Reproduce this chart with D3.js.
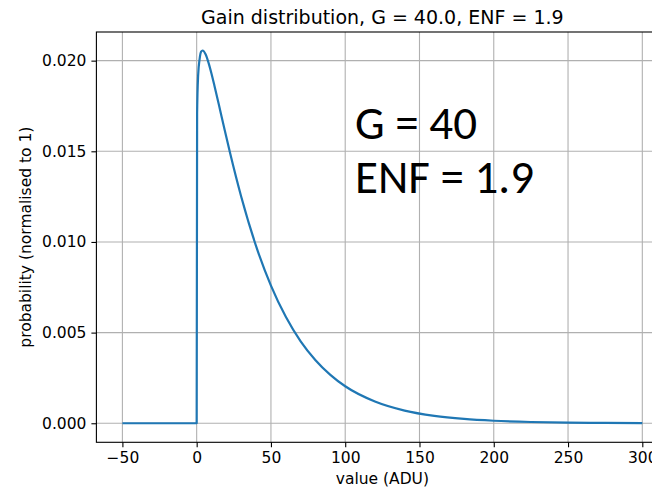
<!DOCTYPE html>
<html>
<head>
<meta charset="utf-8">
<script src="https://cdn.jsdelivr.net/npm/d3@7"></script>
<style>
  body { margin: 0; background: #fff; }
  svg { display: block; }
</style>
</head>
<body>
<div id="chart"></div>
<script>
// values
const xTicks = [-50, 0, 50, 100, 150, 200, 250, 300];
const xTickLabels = ["\u221250", "0", "50", "100", "150", "200", "250", "300"];
const yTicks = [0, 0.005, 0.010, 0.015, 0.020];
const yTickLabels = ["0.000", "0.005", "0.010", "0.015", "0.020"];

const valueADU = [-50, -25, 0, 0.3, 1, 2, 3, 4, 6, 8, 10, 12, 15, 18, 22.5, 30, 40, 50, 60, 70,
    80, 90, 100, 120, 140, 160, 180, 200, 225, 250, 275, 300];
const probability = [0, 0, 0, 0.0171, 0.0192, 0.0201, 0.0205, 0.02056, 0.02035, 0.01988, 0.01928,
    0.0186, 0.01755, 0.01648, 0.0149, 0.01249, 0.00977, 0.00759, 0.00587, 0.00452,
    0.00348, 0.00267, 0.00204, 0.0012, 0.0007, 0.00041, 0.00024, 0.00014, 0.00007,
    0.000035, 0.000018, 0.000009];

const annotation = ["G = 40", "ENF = 1.9"];
const title = "Gain distribution, G = 40.0, ENF = 1.9";

const W = 652, H = 489;
const plot = { left: 96.4, right: 668.3, top: 32, bottom: 442.3 };

const svg = d3.select("#chart").append("svg")
    .attr("width", W)
    .attr("height", H)
    .attr("font-family", "'DejaVu Sans', sans-serif");

const x = d3.scaleLinear().domain([-67.5, 317.5]).range([plot.left, plot.right]);
const y = d3.scaleLinear().domain([-0.00105, 0.02158]).range([plot.bottom, plot.top]);

// grid
const grid = svg.append("g");
grid.selectAll("line.gx").data(xTicks).enter().append("line")
    .attr("x1", d => x(d)).attr("x2", d => x(d))
    .attr("y1", plot.top).attr("y2", plot.bottom)
    .attr("stroke", "#b0b0b0").attr("stroke-width", 1.1);
grid.selectAll("line.gy").data(yTicks).enter().append("line")
    .attr("x1", plot.left).attr("x2", plot.right)
    .attr("y1", d => y(d)).attr("y2", d => y(d))
    .attr("stroke", "#b0b0b0").attr("stroke-width", 1.1);

// the curve
const line = d3.line()
    .x((d, i) => x(valueADU[i]))
    .y(d => y(d))
    .curve(d3.curveMonotoneX);
svg.append("path")
    .attr("d", line(probability))
    .attr("fill", "none")
    .attr("stroke", "#1f77b4")
    .attr("stroke-width", 2.2)
    .attr("stroke-linejoin", "round");

// axes
const xAxis = svg.append("g")
    .attr("transform", `translate(0, ${plot.bottom})`)
    .call(d3.axisBottom(x).tickValues(xTicks)
        .tickFormat((d, i) => xTickLabels[i])
        .tickSize(5).tickPadding(5).tickSizeOuter(0));
const yAxis = svg.append("g")
    .attr("transform", `translate(${plot.left}, 0)`)
    .call(d3.axisLeft(y).tickValues(yTicks)
        .tickFormat((d, i) => yTickLabels[i])
        .tickSize(5).tickPadding(5).tickSizeOuter(0));
for (let a of [xAxis, yAxis]) {
    a.select(".domain").remove();
    a.selectAll("line").attr("stroke", "#000").attr("stroke-width", 1.1);
    a.selectAll("text")
        .attr("font-family", "'DejaVu Sans', sans-serif")
        .attr("font-size", 15.5)
        .attr("fill", "#000");
}
xAxis.selectAll("text").attr("dy", "0.71em");

// spines
svg.append("rect")
    .attr("x", plot.left).attr("y", plot.top)
    .attr("width", plot.right - plot.left)
    .attr("height", plot.bottom - plot.top)
    .attr("fill", "none").attr("stroke", "#000").attr("stroke-width", 1.1);

// labels
const cx = (plot.left + plot.right) / 2;
svg.append("text")
    .attr("x", cx).attr("y", 23.5)
    .attr("text-anchor", "middle")
    .attr("font-size", 19)
    .text(title);
svg.append("text")
    .attr("x", cx).attr("y", 484)
    .attr("text-anchor", "middle")
    .attr("font-size", 15.5)
    .text("value (ADU)");
svg.append("text")
    .attr("transform", `translate(31, ${(plot.top + plot.bottom) / 2}) rotate(-90)`)
    .attr("text-anchor", "middle")
    .attr("font-size", 15.5)
    .text("probability (normalised to 1)");

// big annotation
svg.selectAll("text.note").data(annotation).enter().append("text")
    .attr("class", "note")
    .attr("x", 355)
    .attr("y", (d, i) => i ? 193 : 139)
    .attr("font-family", "Carlito, Calibri, 'Open Sans', sans-serif")
    .attr("font-size", 47)
    .attr("fill", "#000")
    .text(d => d);
</script>
</body>
</html>
